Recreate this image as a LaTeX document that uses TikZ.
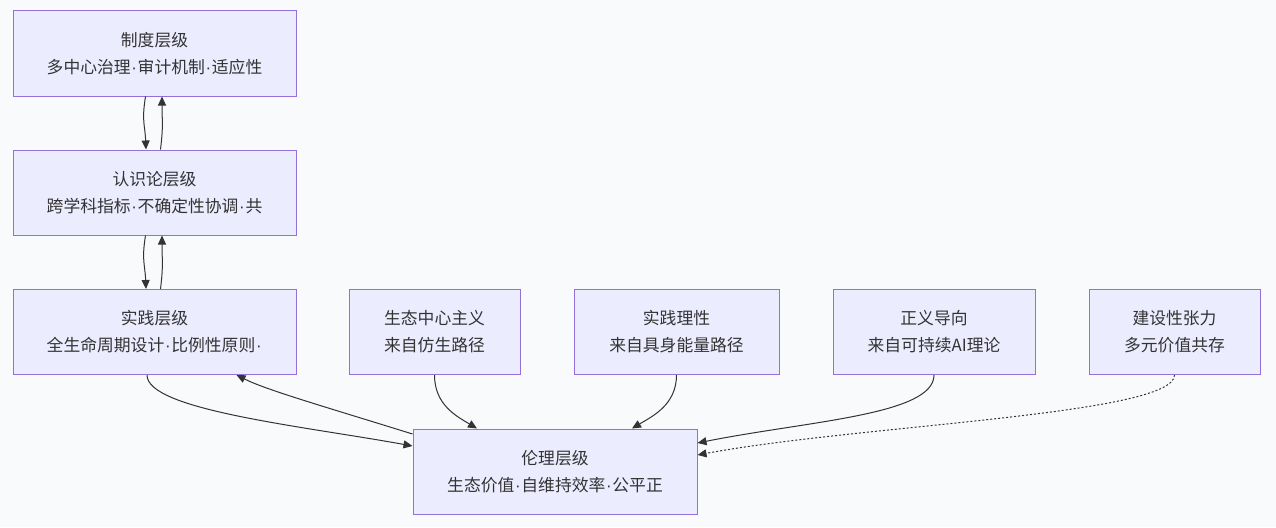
\documentclass[tikz,border=0pt]{standalone}
\usepackage{fontspec}
\setmainfont{Noto Sans CJK SC}
\newfontfamily\latinfont{Liberation Sans}
\newcommand\md{\makebox[7pt]{\latinfont ·}}
\usetikzlibrary{arrows.meta}
\definecolor{bgc}{HTML}{F9FAFC}
\definecolor{boxfill}{HTML}{ECECFF}
\definecolor{boxline}{HTML}{9370DB}
\definecolor{ink}{HTML}{333333}
\tikzset{
  box/.style={draw=boxline, fill=boxfill, line width=1pt, minimum height=85pt,
    inner sep=0pt, align=center, text=ink, font=\fontsize{16.8pt}{27pt}\selectfont},
  edge/.style={draw=ink, line width=1pt, -{Triangle[length=9pt,width=8pt]}},
  dotedge/.style={edge, dash pattern=on 2pt off 2pt},
}
\begin{document}
\begin{tikzpicture}[x=1pt,y=-1pt]
\fill[bgc] (0,0) rectangle (1276,527);
\useasboundingbox (0,0) rectangle (1276,527);
\node[box, minimum width=283pt] (zd) at (154.5,53.5) {制度层级\\多中心治理\md 审计机制\md 适应性};
\node[box, minimum width=283pt] (rs) at (154.5,192.5) {认识论层级\\跨学科指标\md 不确定性协调\md 共};
\node[box, minimum width=283pt] (sj) at (154.5,332) {实践层级\\全生命周期设计\md 比例性原则\md};
\node[box, minimum width=171pt] (st) at (434.5,332) {生态中心主义\\来自仿生路径};
\node[box, minimum width=205pt] (lx) at (676.5,332) {实践理性\\来自具身能量路径};
\node[box, minimum width=202pt] (zy) at (934,332) {正义导向\\来自可持续AI理论};
\node[box, minimum width=171pt] (js) at (1174.5,332) {建设性张力\\多元价值共存};
\node[box, minimum width=284pt] (ll) at (555,471.5) {伦理层级\\生态价值\md 自维持效率\md 公平正};

\draw[edge] ([xshift=-9pt]zd.south) .. controls +(-4,25) and +(-1,-25) .. ([xshift=-8.5pt]rs.north);
\draw[edge] ([xshift=6pt]rs.north) .. controls +(3,-25) and +(0,25) .. ([xshift=7.5pt]zd.south);
\draw[edge] ([xshift=-9pt]rs.south) .. controls +(-4,25) and +(-1,-25) .. ([xshift=-8.5pt]sj.north);
\draw[edge] ([xshift=6pt]sj.north) .. controls +(3,-25) and +(0,25) .. ([xshift=7.5pt]rs.south);

\draw[edge] ([xshift=-7.5pt]sj.south) .. controls +(0,35) and +(-110,-20) .. ([yshift=25.5pt]ll.west);
\draw[edge] ([yshift=37.5pt]ll.west) .. controls +(-90,-28) and +(30,15) .. ([xshift=82pt]sj.south);
\draw[edge] (st.south) .. controls +(0,30) and +(-20,-12) .. ([xshift=-78pt]ll.north);
\draw[edge] (lx.south) .. controls +(0,30) and +(20,-12) .. ([xshift=77pt]ll.north);
\draw[edge] (zy.south) .. controls +(0,40) and +(110,-22) .. ([yshift=28.5pt]ll.east);
\draw[dotedge] (js.south) .. controls +(0,40) and +(160,-30) .. ([yshift=16.5pt]ll.east);
\end{tikzpicture}
\end{document}
